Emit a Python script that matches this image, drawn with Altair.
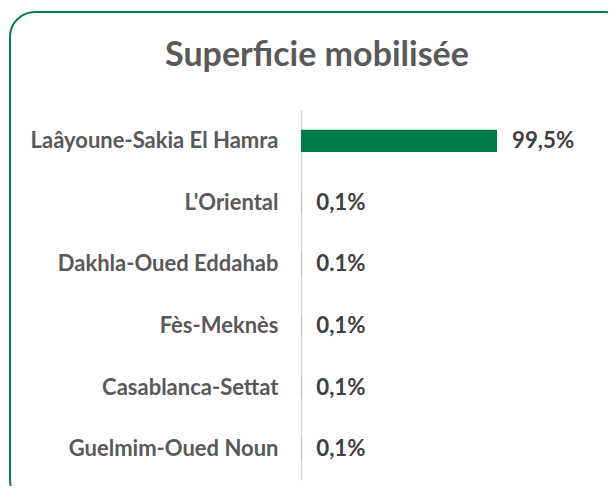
import altair as alt
import pandas as pd

title_text = ["Superficie mobilisée"]
regions = ["Laâyoune-Sakia El Hamra", "L'Oriental", "Dakhla-Oued Eddahab",
           "Fès-Meknès", "Casablanca-Settat", "Guelmim-Oued Noun"]
values = [99.5, 0.1, 0.1, 0.1, 0.1, 0.1]
labels = ["99,5%", "0,1%", "0.1%", "0,1%", "0,1%", "0,1%"]

df = pd.DataFrame({"region": regions, "value": values, "label": labels})

y = alt.Y("region:N", sort=regions, title=None,
          scale=alt.Scale(paddingInner=0.64, paddingOuter=0.32),
          axis=alt.Axis(labelFont="Lato", labelFontWeight="bold", labelFontSize=22,
                        labelColor="#595959", labelPadding=23, labelLimit=400, ticks=False,
                        domainColor="#d9d9d9", domainWidth=1.5, grid=False))
x = alt.X("value:Q", scale=alt.Scale(domain=[0, 152.3]), axis=None)

bars = alt.Chart(df).mark_bar(color="#007A4D").encode(x=x, y=y)
text = alt.Chart(df).mark_text(align="left", baseline="middle", dx=15, font="Lato",
                               fontWeight="bold", fontSize=22.3, color="#404040").encode(
    x=x, y=y, text="label:N")

frame = alt.Chart(pd.DataFrame({"f": [0]})).mark_rect(
    fill=None, stroke="#0E7C52", strokeWidth=2, cornerRadius=25).encode(
    x=alt.value(-291), x2=alt.value(329), y=alt.value(-98), y2=alt.value(395))

title = alt.Chart(pd.DataFrame({"t": title_text})).mark_text(
    align="center", baseline="alphabetic", font="Lato", fontSize=34,
    fontWeight="bold", color="#595959").encode(
    text="t:N", x=alt.value(16), y=alt.value(-44))

chart = alt.layer(frame, title, bars, text).properties(
    width=300, height=370,
    padding={"left": 293, "top": 102, "right": 7, "bottom": 6},
    autosize=alt.AutoSizeParams(type="none"),
).configure_view(stroke=None)

chart.save("out.html", embed_options={"renderer": "svg", "actions": False})
